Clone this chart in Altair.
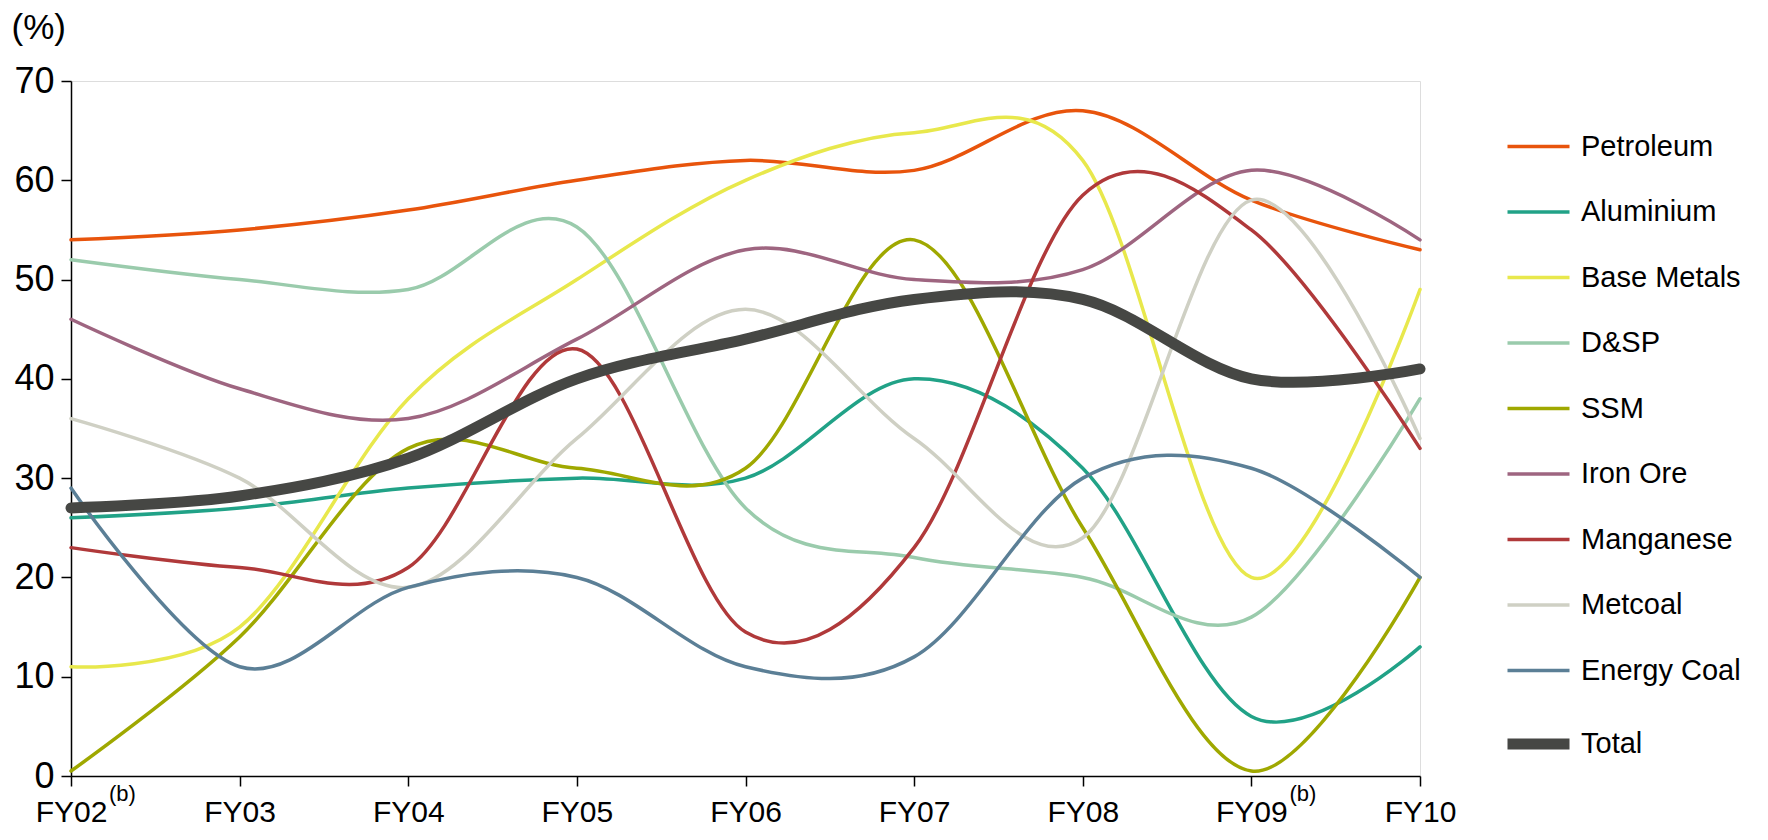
import altair as alt
import pandas as pd

years = ["FY02", "FY03", "FY04", "FY05", "FY06", "FY07", "FY08", "FY09", "FY10"]
series_names = ["Petroleum", "Aluminium", "Base Metals", "D&SP", "SSM", "Iron Ore",
                "Manganese", "Metcoal", "Energy Coal", "Total"]
petroleum = [54, 55, 57, 60, 62, 61, 67, 58, 53]
aluminium = [26, 27, 29, 30, 30, 40, 31, 6, 13]
base_metals = [11, 15, 38, 50, 60, 64.8, 62, 20, 49]
dsp = [52, 50, 49, 55.3, 27, 22, 20, 16, 38]
ssm = [0.5, 14, 33, 31, 31, 54, 25, 0.5, 20]
iron_ore = [46, 39, 36, 44, 53, 50, 51, 61, 54]
manganese = [23, 21, 21, 43, 14.5, 23, 58.5, 55, 33]
metcoal = [36, 30, 19, 34, 47, 34, 24, 58, 34]
energy_coal = [29, 11, 19, 20, 11, 12, 30, 31, 20]
total = [27, 28.2, 32, 40, 44, 48, 48, 40, 41]
footnote_years = [0, 7]
footnote_text = ["(b)", "(b)"]

colors = ["#E8540C", "#21A287", "#E8E84C", "#9ACBAC", "#9FA800", "#9E6580",
          "#B0393A", "#CFD0C4", "#5B7F96", "#464744"]

values = [petroleum, aluminium, base_metals, dsp, ssm, iron_ore,
          manganese, metcoal, energy_coal, total]
rows = []
for name, vals in zip(series_names, values):
    for i, v in enumerate(vals):
        rows.append({"series": name, "idx": i, "value": v})
df = pd.DataFrame(rows)

FONT = "Liberation Sans"
label_expr = "[" + ",".join("'%s'" % y for y in years) + "][datum.value]"

color_enc = alt.Color("series:N", scale=alt.Scale(domain=series_names, range=colors),
                      legend=alt.Legend(title=None, orient="none", legendX=1453, legendY=51,
                                        symbolType="stroke", symbolSize=3844,
                                        symbolStrokeWidth={"expr": "datum.value === 'Total' ? 11 : 3.5"},
                                        labelFontSize=29, labelFont=FONT, labelColor="black",
                                        labelOffset=28, rowPadding=35.5, labelLimit=400))

x_enc = alt.X("idx:Q", scale=alt.Scale(domain=[0, 8], nice=False, zero=False),
              axis=alt.Axis(values=list(range(9)), labelExpr=label_expr, title=None,
                            grid=False, domainColor="black", domainWidth=1.5,
                            tickColor="black", tickWidth=1.5, tickSize=10,
                            labelFontSize=30, labelFont=FONT, labelColor="black",
                            labelPadding=11, labelFlush=False))
y_enc = alt.Y("value:Q", scale=alt.Scale(domain=[0, 70], nice=False),
              axis=alt.Axis(values=list(range(0, 71, 10)), title="(%)", titleAngle=0,
                            titleX=-60, titleY=-43, titleAlign="left",
                            titleBaseline="alphabetic", titleFontSize=35,
                            titleFont=FONT, titleFontWeight="normal", titleColor="black",
                            grid=False, domainColor="black", domainWidth=1.5,
                            tickColor="black", tickWidth=1.5, tickSize=10,
                            labelFontSize=36, labelFont=FONT, labelColor="black",
                            labelPadding=7))

base = alt.Chart(df)
others = base.transform_filter(alt.datum.series != "Total").mark_line(
    interpolate="cardinal", tension=0, strokeCap="round", strokeJoin="round", strokeWidth=3.5
).encode(x=x_enc, y=y_enc, color=color_enc, detail="series:N")
tot = base.transform_filter(alt.datum.series == "Total").mark_line(
    interpolate="cardinal", tension=0, strokeCap="round", strokeJoin="round", strokeWidth=11
).encode(x=x_enc, y=y_enc, color=color_enc)

notes = alt.Chart(pd.DataFrame({"idx": footnote_years, "t": footnote_text})).mark_text(
    font=FONT, fontSize=22, align="left", baseline="top", dx=38, dy=8, color="black"
).encode(x=alt.X("idx:Q"), y=alt.datum(0), text="t:N")

chart = alt.layer(others, tot, notes).properties(
    width=1349, height=695,
    autosize=alt.AutoSizeParams(type="none"),
    padding={"left": 63, "top": 73, "right": 340, "bottom": 56},
).configure_view(stroke=None).configure(background="white")

chart.save("out.html", embed_options={"renderer": "svg", "actions": False})
